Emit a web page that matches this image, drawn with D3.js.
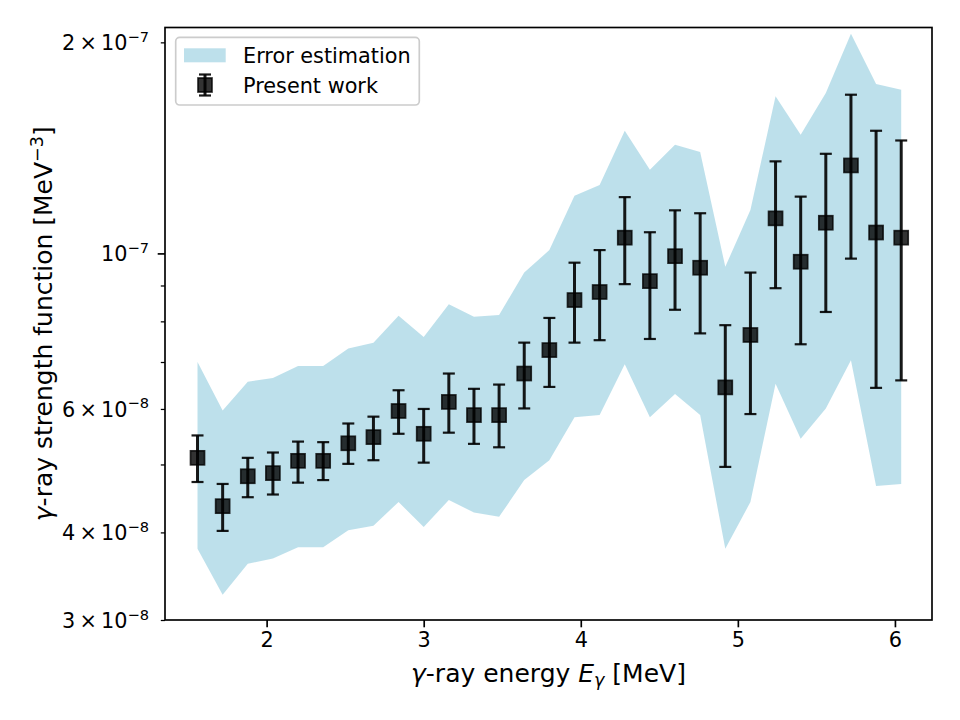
<!DOCTYPE html>
<meta charset="utf-8" />
<style>
  body { margin: 0; background: #fff; }
  svg { font-family: "DejaVu Sans", sans-serif; }
  .axis path { display: none; }
  .axis line { stroke: #000; }
  .axis text { font-size: 20.8px; fill: #000; font-family: "DejaVu Sans", sans-serif; }
  .label { font-size: 25px; fill: #000; }
  .legend text { font-size: 20.8px; fill: #000; }
</style>
<body>
<script src="https://d3js.org/d3.v7.min.js"></script>
<script>
// gamma-ray energies [MeV]
var energy = [1.56, 1.72, 1.88, 2.04, 2.20, 2.36, 2.52, 2.68, 2.84, 3.00,
              3.16, 3.32, 3.48, 3.64, 3.80, 3.96, 4.12, 4.28, 4.44, 4.60,
              4.76, 4.92, 5.08, 5.24, 5.40, 5.56, 5.72, 5.88, 6.04];

// strength function [MeV^-3]
var strength = [5.11e-8, 4.36e-8, 4.81e-8, 4.86e-8, 5.06e-8, 5.06e-8, 5.36e-8, 5.47e-8, 5.96e-8, 5.53e-8,
                6.14e-8, 5.88e-8, 5.88e-8, 6.74e-8, 7.28e-8, 8.58e-8, 8.81e-8, 1.053e-7, 9.13e-8, 9.91e-8,
                9.54e-8, 6.44e-8, 7.65e-8, 1.122e-7, 9.73e-8, 1.106e-7, 1.335e-7, 1.071e-7, 1.053e-7];

// error bar ends
var errHigh = [5.50e-8, 4.69e-8, 5.11e-8, 5.20e-8, 5.39e-8, 5.38e-8, 5.72e-8, 5.85e-8, 6.38e-8, 6.00e-8,
               6.74e-8, 6.41e-8, 6.50e-8, 7.46e-8, 8.09e-8, 9.70e-8, 1.011e-7, 1.203e-7, 1.072e-7, 1.152e-7,
               1.141e-7, 7.90e-8, 9.39e-8, 1.353e-7, 1.205e-7, 1.387e-7, 1.684e-7, 1.496e-7, 1.449e-7];
var errLow = [4.72e-8, 4.02e-8, 4.49e-8, 4.53e-8, 4.71e-8, 4.75e-8, 5.01e-8, 5.07e-8, 5.53e-8, 5.03e-8,
              5.55e-8, 5.35e-8, 5.29e-8, 6.01e-8, 6.45e-8, 7.46e-8, 7.52e-8, 9.04e-8, 7.55e-8, 8.31e-8,
              7.69e-8, 4.96e-8, 5.90e-8, 8.92e-8, 7.42e-8, 8.25e-8, 9.83e-8, 6.43e-8, 6.59e-8];

// error estimation band
var bandHigh = [7.00e-8, 5.97e-8, 6.56e-8, 6.64e-8, 6.91e-8, 6.91e-8, 7.32e-8, 7.46e-8, 8.15e-8, 7.60e-8,
                8.46e-8, 8.12e-8, 8.17e-8, 9.39e-8, 1.011e-7, 1.208e-7, 1.252e-7, 1.496e-7, 1.316e-7, 1.429e-7,
                1.395e-7, 9.57e-8, 1.153e-7, 1.675e-7, 1.476e-7, 1.693e-7, 2.057e-7, 1.745e-7, 1.712e-7];
var bandLow = [3.79e-8, 3.26e-8, 3.61e-8, 3.67e-8, 3.81e-8, 3.81e-8, 4.03e-8, 4.09e-8, 4.42e-8, 4.07e-8,
               4.45e-8, 4.27e-8, 4.21e-8, 4.75e-8, 5.07e-8, 5.84e-8, 5.88e-8, 6.95e-8, 5.84e-8, 6.30e-8,
               5.88e-8, 3.79e-8, 4.42e-8, 6.52e-8, 5.44e-8, 6.01e-8, 7.04e-8, 4.66e-8, 4.69e-8];

var xTicks = [2, 3, 4, 5, 6];
var yMajorTicks = [1e-7];
var yMinorTicks = [3e-8, 4e-8, 5e-8, 6e-8, 7e-8, 8e-8, 9e-8, 2e-7];
var yLabelTicks = [3e-8, 4e-8, 6e-8, 1e-7, 2e-7];
var yLabelMant = ["3", "4", "6", "", "2"];
var yLabelExp = ["\u22128", "\u22128", "\u22128", "\u22127", "\u22127"];

var plotL = 165, plotR = 932, plotT = 27.5, plotB = 620;

var svg = d3.select("body").append("svg")
  .attr("width", 960)
  .attr("height", 720);

svg.append("rect").attr("width", 960).attr("height", 720).attr("fill", "#fff");

var x = d3.scaleLinear().domain([1.353, 6.236]).range([plotL, plotR]);
var y = d3.scaleLog().domain([3e-8, 2.1e-7]).range([plotB, plotT]);

// error band
var area = d3.area()
  .x(function (d, i) { return x(energy[i]); })
  .y0(function (d, i) { return y(bandLow[i]); })
  .y1(function (d, i) { return y(bandHigh[i]); });

svg.append("path")
  .datum(energy)
  .attr("d", area)
  .attr("fill", "lightblue")
  .attr("fill-opacity", 0.8);

// error bars
var bars = svg.append("g").attr("class", "errorbars");
energy.forEach(function (e, i) {
  var cx = x(e);
  bars.append("line")
    .attr("x1", cx).attr("x2", cx)
    .attr("y1", y(errLow[i])).attr("y2", y(errHigh[i]))
    .attr("stroke", "#000").attr("stroke-opacity", 0.9).attr("stroke-width", 3);
  [errLow[i], errHigh[i]].forEach(function (v) {
    bars.append("line")
      .attr("x1", cx - 6).attr("x2", cx + 6)
      .attr("y1", y(v)).attr("y2", y(v))
      .attr("stroke", "#000").attr("stroke-opacity", 0.9).attr("stroke-width", 2.2);
  });
});

// markers
svg.append("g").selectAll("rect")
  .data(strength)
  .enter().append("rect")
  .attr("x", function (d, i) { return x(energy[i]) - 7; })
  .attr("y", function (d) { return y(d) - 7; })
  .attr("width", 14).attr("height", 14)
  .attr("fill", "#000").attr("fill-opacity", 0.8)
  .attr("stroke", "#000").attr("stroke-opacity", 0.8).attr("stroke-width", 1.7);

// axes
svg.append("g")
  .attr("class", "axis")
  .attr("transform", "translate(0," + plotB + ")")
  .call(d3.axisBottom(x).tickValues(xTicks).tickSize(7.3).tickPadding(5).tickFormat(d3.format("d")))
  .selectAll("line").attr("stroke-width", 1.67);

svg.append("g")
  .attr("class", "axis")
  .attr("transform", "translate(" + plotL + ",0)")
  .call(d3.axisLeft(y).tickValues(yMajorTicks).tickSize(7.3).tickFormat(""))
  .selectAll("line").attr("stroke-width", 1.67);

svg.append("g")
  .attr("class", "axis")
  .attr("transform", "translate(" + plotL + ",0)")
  .call(d3.axisLeft(y).tickValues(yMinorTicks).tickSize(4.2).tickFormat(""))
  .selectAll("line").attr("stroke-width", 1.25);

var ylab = svg.append("g").attr("class", "axis");
yLabelTicks.forEach(function (v, i) {
  var t = ylab.append("text")
    .attr("x", 149)
    .attr("y", y(v) + 8)
    .attr("text-anchor", "end");
  t.append("tspan").text(yLabelMant[i] ? yLabelMant[i] + "\u2009\u00d7\u200910" : "10");
  t.append("tspan").attr("dy", -8.5).attr("font-size", "14.6px").text(yLabelExp[i]);
});

// frame
svg.append("rect")
  .attr("x", plotL).attr("y", plotT)
  .attr("width", plotR - plotL).attr("height", plotB - plotT)
  .attr("fill", "none").attr("stroke", "#000").attr("stroke-width", 1.67);

// axis labels
var xl = svg.append("text").attr("class", "label")
  .attr("x", (plotL + plotR) / 2).attr("y", 682)
  .attr("text-anchor", "middle");
xl.append("tspan").attr("font-style", "italic").text("\u03b3");
xl.append("tspan").text("-ray energy ");
xl.append("tspan").attr("font-style", "italic").text("E");
xl.append("tspan").attr("font-style", "italic").attr("font-size", "17.5px").attr("dy", 4).text("\u03b3");
xl.append("tspan").attr("dy", -4).text(" [MeV]");

var yl = svg.append("text").attr("class", "label")
  .attr("transform", "translate(52," + (plotT + plotB) / 2 + ") rotate(-90)")
  .attr("text-anchor", "middle");
yl.append("tspan").attr("font-style", "italic").text("\u03b3");
yl.append("tspan").text("-ray strength function [MeV");
yl.append("tspan").attr("font-size", "17.5px").attr("dy", -9).text("\u22123");
yl.append("tspan").attr("dy", 9).text("]");

// legend
var lg = svg.append("g").attr("class", "legend");
lg.append("rect")
  .attr("x", 175.7).attr("y", 37.3).attr("width", 243.6).attr("height", 67.7)
  .attr("rx", 4).attr("fill", "#fff").attr("fill-opacity", 0.8)
  .attr("stroke", "#ccc").attr("stroke-width", 1.67);
lg.append("rect")
  .attr("x", 184).attr("y", 48.3).attr("width", 41.7).attr("height", 14)
  .attr("fill", "lightblue").attr("fill-opacity", 0.8);
lg.append("text").attr("x", 243).attr("y", 62.5).text("Error estimation");
lg.append("line")
  .attr("x1", 205).attr("x2", 205).attr("y1", 74.5).attr("y2", 95.5)
  .attr("stroke", "#000").attr("stroke-opacity", 0.9).attr("stroke-width", 3);
[74.5, 95.5].forEach(function (cy) {
  lg.append("line")
    .attr("x1", 199).attr("x2", 211).attr("y1", cy).attr("y2", cy)
    .attr("stroke", "#000").attr("stroke-opacity", 0.9).attr("stroke-width", 2.2);
});
lg.append("rect")
  .attr("x", 198).attr("y", 78).attr("width", 14).attr("height", 14)
  .attr("fill", "#000").attr("fill-opacity", 0.8)
  .attr("stroke", "#000").attr("stroke-opacity", 0.8).attr("stroke-width", 1.7);
lg.append("text").attr("x", 243).attr("y", 92.5).text("Present work");
</script>
</body>
